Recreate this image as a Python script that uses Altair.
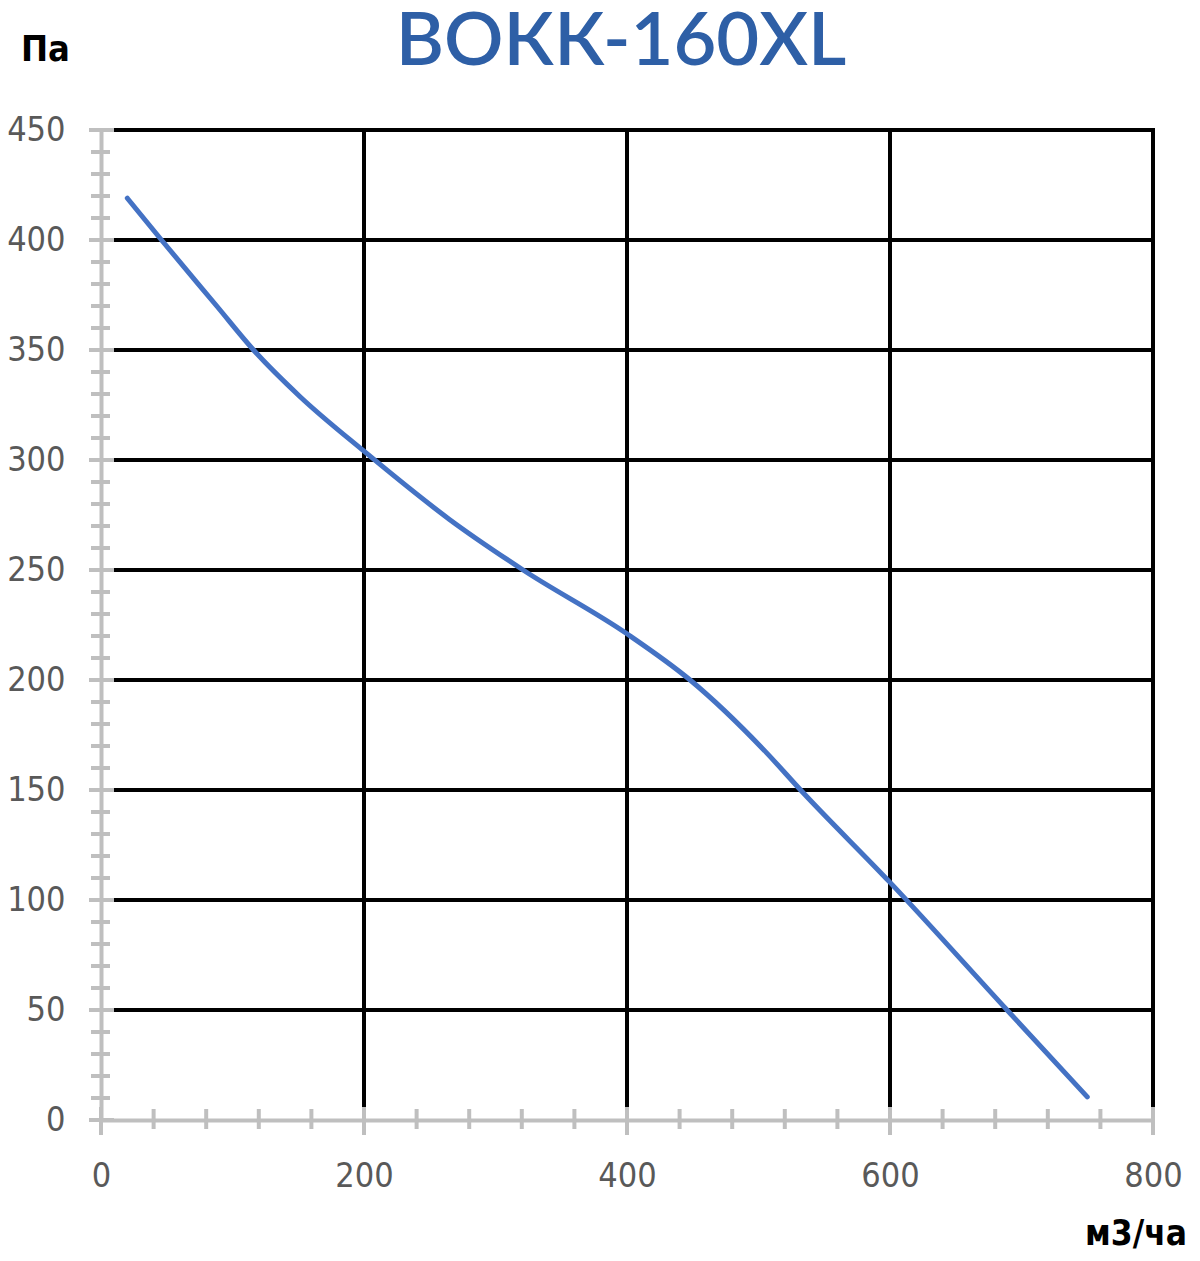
import altair as alt
import pandas as pd

# ---- data ----
FLOW = [20, 46, 88, 116, 151, 200, 265, 321, 400, 448, 506, 532, 600, 689, 750]
PRESSURE = [419, 400, 370, 350, 329, 304, 273, 250, 221, 200, 167, 150, 108, 50, 10.5]

X_TICKS = [0, 200, 400, 600, 800]
Y_TICKS = [0, 50, 100, 150, 200, 250, 300, 350, 400, 450]
X_GRID = [200, 400, 600, 800]
Y_GRID = [50, 100, 150, 200, 250, 300, 350, 400, 450]
X_MINOR = [40, 80, 120, 160, 240, 280, 320, 360, 440, 480, 520, 560, 640, 680, 720, 760]
Y_MINOR = [v for v in range(0, 451, 10) if v % 50]

TITLE = "ВОКК-160XL"
Y_TITLE = "Па"
X_TITLE = "м3/час"

W, H = 1052, 990
LABEL_FONT = "DejaVu Sans Condensed, DejaVu Sans, sans-serif"
GRAY = "#BFBFBF"
SW = 4

xs = alt.Scale(domain=[0, 800], nice=False, zero=False)
ys = alt.Scale(domain=[0, 450], nice=False, zero=False)

X_AX = alt.Axis(values=X_TICKS, grid=False, ticks=False, domain=True,
                domainColor=GRAY, domainWidth=SW, labelFont=LABEL_FONT,
                labelFontSize=34, labelColor="#595959", labelPadding=39,
                labelFlush=False, labelOverlap=False, format="d", title=None)
Y_AX = alt.Axis(values=Y_TICKS, grid=False, ticks=False, domain=True,
                domainColor=GRAY, domainWidth=SW, labelFont=LABEL_FONT,
                labelFontSize=34, labelColor="#595959", labelPadding=36,
                labelFlush=False, labelOverlap=False, format="d",
                title=Y_TITLE, titleFont=LABEL_FONT, titleFontSize=36,
                titleFontWeight="bold", titleColor="#000000", titleAngle=0,
                titleX=-56, titleY=-81, titleAlign="center", titleBaseline="middle")

curve = pd.DataFrame({"x": FLOW, "y": PRESSURE})
hgrid = pd.DataFrame({"y": Y_GRID})
vgrid = pd.DataFrame({"x": X_GRID})
ymaj = pd.DataFrame({"y": Y_TICKS})
ymin = pd.DataFrame({"y": Y_MINOR})
xmaj = pd.DataFrame({"x": X_TICKS})
xmin = pd.DataFrame({"x": X_MINOR})

base_line = alt.Chart(curve).mark_line(
    color="#4472C4", strokeWidth=5, interpolate="monotone", strokeCap="round"
).encode(
    x=alt.X("x:Q", scale=xs, axis=X_AX),
    y=alt.Y("y:Q", scale=ys, axis=Y_AX),
)

h_rules = alt.Chart(hgrid).mark_rule(color="#000000", strokeWidth=SW).encode(
    y=alt.Y("y:Q", scale=ys, axis=Y_AX), x=alt.value(13), x2=alt.value(W + 2)
)
v_rules = alt.Chart(vgrid).mark_rule(color="#000000", strokeWidth=SW).encode(
    x=alt.X("x:Q", scale=xs, axis=X_AX), y=alt.value(-2), y2=alt.value(H - 13)
)
y_major = alt.Chart(ymaj).mark_rule(color=GRAY, strokeWidth=SW).encode(
    y=alt.Y("y:Q", scale=ys, axis=Y_AX), x=alt.value(-12), x2=alt.value(13)
)
y_minor = alt.Chart(ymin).mark_rule(color=GRAY, strokeWidth=SW).encode(
    y=alt.Y("y:Q", scale=ys, axis=Y_AX), x=alt.value(-10), x2=alt.value(9)
)
x_major = alt.Chart(xmaj).mark_rule(color=GRAY, strokeWidth=SW).encode(
    x=alt.X("x:Q", scale=xs, axis=X_AX), y=alt.value(H - 13), y2=alt.value(H + 15)
)
x_minor = alt.Chart(xmin).mark_rule(color=GRAY, strokeWidth=SW).encode(
    x=alt.X("x:Q", scale=xs, axis=X_AX), y=alt.value(H - 11), y2=alt.value(H + 9)
)

title = alt.Chart(pd.DataFrame({"t": [TITLE]})).mark_text(
    font="Lato", fontSize=74, fontWeight=600, color="#2E5FA6",
    align="center", baseline="alphabetic"
).encode(text="t:N", x=alt.value(520), y=alt.value(-65))

x_title = alt.Chart(pd.DataFrame({"t": [X_TITLE]})).mark_text(
    font=LABEL_FONT, fontSize=35, fontWeight="bold", color="#000000",
    align="left", baseline="middle", limit=107, ellipsis="\u200b"
).encode(text="t:N", x=alt.value(984), y=alt.value(H + 114))

chart = alt.layer(
    h_rules, v_rules, y_major, y_minor, x_major, x_minor, base_line, title, x_title
).properties(
    width=W, height=H,
    autosize=alt.AutoSizeParams(type="none"),
    padding={"left": 93, "top": 122, "right": 39, "bottom": 131},
).configure_view(stroke=None).configure(background="white")

chart.save("out.html", embed_options={"renderer": "svg", "actions": False})
